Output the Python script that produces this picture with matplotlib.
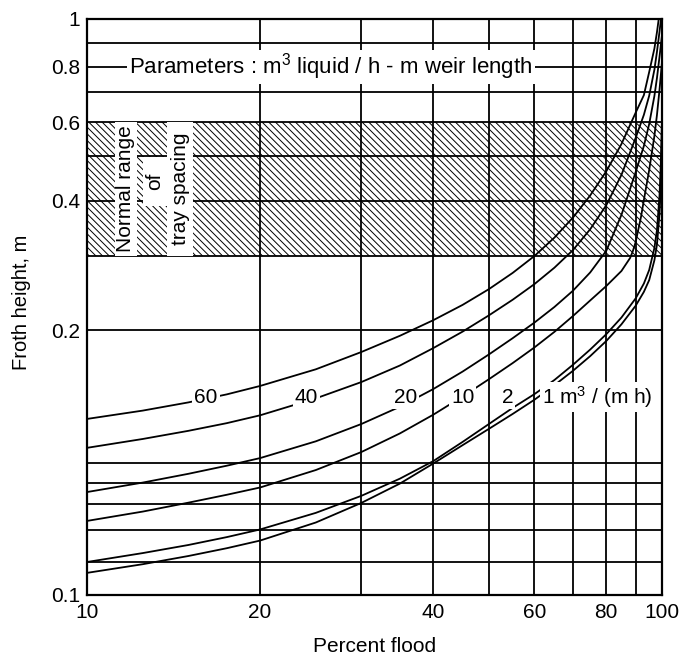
import numpy as np
import matplotlib
matplotlib.use("Agg")
import matplotlib.pyplot as plt

plt.rcParams['font.family'] = ['Liberation Sans', 'DejaVu Sans']
plt.rcParams['mathtext.fontset'] = 'custom'
plt.rcParams['mathtext.rm'] = 'Liberation Sans'
plt.rcParams['mathtext.default'] = 'regular'
plt.rcParams['hatch.linewidth'] = 0.7

# percent flood positions where the curves were read
xa = [10, 12.5, 15, 17.5, 20, 25, 30, 35, 40, 45, 50, 55, 60, 65, 70, 75, 80, 85]

# froth height (m) for each liquid load, m3/(m h)
x60 = xa + [90, 93, 95, 97, 98, 98.7]
y60 = [0.1650, 0.1680, 0.1710, 0.1740, 0.1772, 0.1837, 0.1907, 0.1975, 0.2110,
       0.2295, 0.2502, 0.2735, 0.3000, 0.3303, 0.3667, 0.4111, 0.4635, 0.5330,
       0.6297, 0.6889, 0.7790, 0.8756, 0.9437, 1.0]

x40 = xa + [90, 93, 95, 97, 98, 99, 99.6]
y40 = [0.1550, 0.1580, 0.1608, 0.1635, 0.1663, 0.1725, 0.1787, 0.1852, 0.1923,
       0.1993, 0.2167, 0.2361, 0.2572, 0.2814, 0.3094, 0.3450, 0.3913, 0.4551,
       0.5513, 0.6226, 0.6868, 0.7886, 0.8619, 0.9453, 1.0]

x20 = xa + [90, 93, 95, 97, 98, 99, 100]
y20 = [0.1356, 0.1402, 0.1445, 0.1486, 0.1516, 0.1572, 0.1632, 0.1694, 0.1760,
       0.1828, 0.1897, 0.1965, 0.2083, 0.2269, 0.2480, 0.2741, 0.3083, 0.3718,
       0.4619, 0.5276, 0.5936, 0.6857, 0.7544, 0.8402, 0.9322]

x10 = xa + [88, 89, 90, 92, 93, 95, 97, 98, 99, 100]
y10 = [0.1234, 0.1270, 0.1306, 0.1343, 0.1378, 0.1464, 0.1536, 0.1599, 0.1665,
       0.1732, 0.1798, 0.1862, 0.1926, 0.1992, 0.2159, 0.2351, 0.2545, 0.2763,
       0.2967, 0.3080, 0.3228, 0.3698, 0.4020, 0.4665, 0.5566, 0.6220, 0.7075,
       0.8198]

x2 = xa + [90, 93, 95, 97, 98, 99, 99.5, 100]
y2 = [0.1100, 0.1127, 0.1152, 0.1177, 0.1202, 0.1265, 0.1338, 0.1421, 0.1506,
      0.1570, 0.1632, 0.1690, 0.1741, 0.1795, 0.1855, 0.1917, 0.1982, 0.2141,
      0.2379, 0.2580, 0.2779, 0.3128, 0.3437, 0.4101, 0.4781, 0.6062]

x1 = xa + [90, 93, 95, 97, 98, 99, 99.5, 100]
y1 = [0.1066, 0.1093, 0.1118, 0.1142, 0.1166, 0.1228, 0.1305, 0.1397, 0.1497,
      0.1559, 0.1615, 0.1668, 0.1720, 0.1775, 0.1831, 0.1890, 0.1953, 0.2063,
      0.2285, 0.2465, 0.2629, 0.2930, 0.3183, 0.3723, 0.4266, 0.5566]

curves = [(x60, y60), (x40, y40), (x20, y20), (x10, y10), (x2, y2), (x1, y1)]
curve_labels = ['60', '40', '20', '10', '2', '1 m$^3$ / (m h)']
label_x = [16.1, 24.1, 35.8, 45.0, 53.9, 61.8]
label_y = 0.173

xgrid = [20, 30, 40, 50, 60, 70, 80, 90]
ygrid = [0.11, 0.12, 0.13, 0.14, 0.15, 0.2, 0.3, 0.4, 0.5, 0.6, 0.7, 0.8, 0.9]
xticks = [10, 20, 40, 60, 80, 100]
yticks = [0.1, 0.2, 0.4, 0.6, 0.8, 1.0]
ytick_labels = ['0.1', '0.2', '0.4', '0.6', '0.8', '1']

# the printed chart's froth-height axis is not evenly logarithmic,
# so map gridline values to the heights they are drawn at
scale_vals = np.log10([0.01, 0.1, 0.11, 0.12, 0.13, 0.14, 0.15, 0.2, 0.3, 0.4,
                       0.5, 0.6, 0.7, 0.8, 0.9, 1.0, 10.0])
scale_pos = np.array([-797, 0, 33, 65, 91, 112, 132, 265, 339, 394,
                      439, 473, 503, 528, 552, 576, 1100], dtype=float)


def fwd(v):
    v = np.clip(np.asarray(v, dtype=float), 1e-3, None)
    return np.interp(np.log10(v), scale_vals, scale_pos)


def inv(p):
    return 10 ** np.interp(p, scale_pos, scale_vals)


def main():
    fs = 15
    fig = plt.figure(figsize=(6.81, 6.61), dpi=100)
    ax = fig.add_axes([87 / 681, 1 - 595 / 661, 575 / 681, 576 / 661])
    ax.set_xscale('log')
    ax.set_yscale('function', functions=(fwd, inv))
    ax.set_xlim(10, 100)
    ax.set_ylim(0.1, 1.0)

    # tray spacing band
    ax.fill_between([10, 100], 0.3, 0.6, facecolor='none', edgecolor='black',
                    hatch='\\\\\\\\\\', linewidth=0, zorder=1)

    for gx in xgrid:
        ax.axvline(gx, color='black', lw=1.3, zorder=2)
    for gy in ygrid:
        ax.axhline(gy, color='black', lw=1.3, zorder=2)

    # white columns behind the band text
    ax.fill_between([11.19, 12.21], 0.3, 0.6, color='white', lw=0, zorder=3)
    ax.fill_between([13.78, 15.29], 0.3, 0.6, color='white', lw=0, zorder=3)
    ax.fill_between([12.51, 13.78], 0.39, 0.497, color='white', lw=0, zorder=3)
    ax.text(11.69, 0.425, 'Normal range', rotation=90, ha='center', va='center',
            fontsize=fs, zorder=4)
    ax.text(13.13, 0.44, 'of', rotation=90, ha='center', va='center',
            fontsize=fs, zorder=4)
    ax.text(14.52, 0.425, 'tray spacing', rotation=90, ha='center', va='center',
            fontsize=fs, zorder=4)

    for (xs, ys), name, lx in zip(curves, curve_labels, label_x):
        ax.plot(xs, ys, color='black', lw=1.3, zorder=5)
        ha = 'left' if lx > 60 else 'center'
        ax.text(lx, label_y, name, ha=ha, va='center', fontsize=fs, zorder=6,
                bbox=dict(facecolor='white', edgecolor='none', pad=1.5))

    ax.text(11.85, 0.8, 'Parameters : m$^3$ liquid / h - m weir length',
            ha='left', va='center', fontsize=16, zorder=6,
            bbox=dict(facecolor='white', edgecolor='none', pad=1.5))

    ax.set_xticks(xticks)
    ax.set_xticklabels([str(t) for t in xticks])
    ax.set_xticks([], minor=True)
    ax.set_yticks(yticks)
    ax.set_yticklabels(ytick_labels)
    ax.set_yticks([], minor=True)
    ax.tick_params(length=0, labelsize=fs)
    ax.tick_params(axis='y', pad=5)
    ax.tick_params(axis='x', pad=6)
    for sp in ax.spines.values():
        sp.set_linewidth(1.6)
        sp.set_zorder(7)

    fig.text(22 / 681, 1 - 302 / 661, 'Froth height, m', rotation=90,
             ha='center', va='center', fontsize=14.5)
    fig.text(375 / 681, 1 - 647 / 661, 'Percent flood', ha='center',
             va='center', fontsize=fs)

    fig.savefig('out.png', dpi=100)


if __name__ == "__main__":
    main()
